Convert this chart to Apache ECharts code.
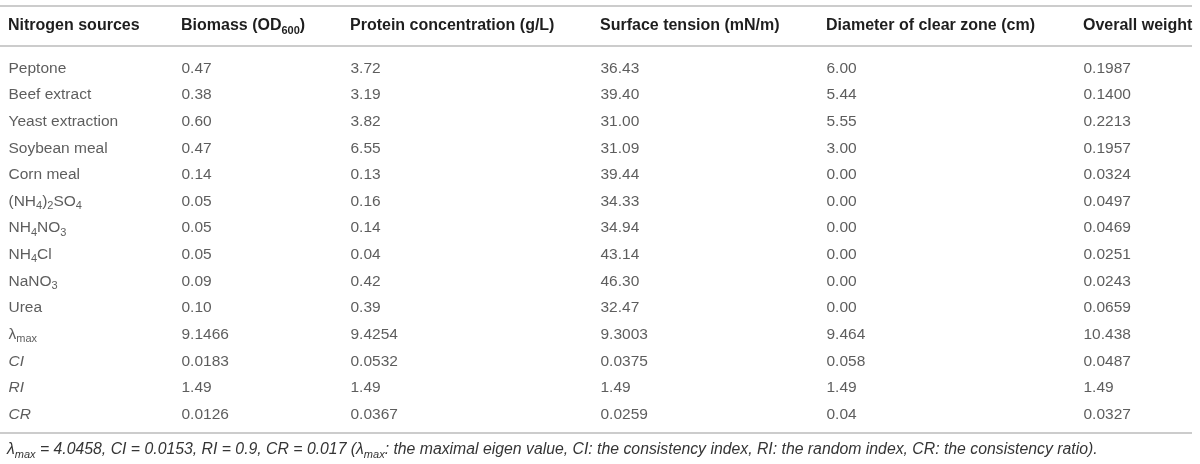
<!DOCTYPE html>
<html>
<head>
<meta charset="utf-8">
<script src="https://cdn.jsdelivr.net/npm/echarts@6/dist/echarts.min.js"></script>
<style>
html, body { margin: 0; padding: 0; background: #fff; }
#main { width: 1200px; height: 464px; }
</style>
</head>
<body>
<div id="main"></div>
<script>
// table content
var headers = ['Nitrogen sources', 'Biomass (OD{s|600})', 'Protein concentration (g/L)', 'Surface tension (mN/m)', 'Diameter of clear zone (cm)', 'Overall weight'];
var sources = ['Peptone', 'Beef extract', 'Yeast extraction', 'Soybean meal', 'Corn meal', '(NH{s|4}){s|2}SO{s|4}', 'NH{s|4}NO{s|3}', 'NH{s|4}Cl', 'NaNO{s|3}', 'Urea', 'λ{s|max}', '{i|CI}', '{i|RI}', '{i|CR}'];
var biomass = ['0.47', '0.38', '0.60', '0.47', '0.14', '0.05', '0.05', '0.05', '0.09', '0.10', '9.1466', '0.0183', '1.49', '0.0126'];
var protein = ['3.72', '3.19', '3.82', '6.55', '0.13', '0.16', '0.14', '0.04', '0.42', '0.39', '9.4254', '0.0532', '1.49', '0.0367'];
var surfaceTension = ['36.43', '39.40', '31.00', '31.09', '39.44', '34.33', '34.94', '43.14', '46.30', '32.47', '9.3003', '0.0375', '1.49', '0.0259'];
var clearZone = ['6.00', '5.44', '5.55', '3.00', '0.00', '0.00', '0.00', '0.00', '0.00', '0.00', '9.464', '0.058', '1.49', '0.04'];
var overallWeight = ['0.1987', '0.1400', '0.2213', '0.1957', '0.0324', '0.0497', '0.0469', '0.0251', '0.0243', '0.0659', '10.438', '0.0487', '1.49', '0.0327'];
var footnote = 'λ{s|max} = 4.0458, CI = 0.0153, RI = 0.9, CR = 0.017 (λ{s|max}: the maximal eigen value, CI: the consistency index, RI: the random index, CR: the consistency ratio).';

var columns = [sources, biomass, protein, surfaceTension, clearZone, overallWeight];

// layout
var colX = [8, 181, 350, 600, 826, 1083];
var font = 'Liberation Sans, Arial, Helvetica, sans-serif';
var bodyColor = '#353535';
var ruleColor = '#cccccc';

var subRich = {
    s: { fontSize: 11, lineHeight: 10, verticalAlign: 'bottom', fontFamily: font, color: bodyColor },
    i: { fontStyle: 'italic', fontSize: 15.5, lineHeight: 20, fontFamily: font, color: bodyColor }
};

var chart = echarts.init(document.getElementById('main'));

var series = columns.map(function (col, c) {
    return {
        type: 'scatter',
        symbolSize: 1,
        itemStyle: { color: 'rgba(0,0,0,0)' },
        silent: true,
        data: col.map(function (v, i) { return [colX[c], i, v]; }),
        label: {
            show: true,
            position: 'right',
            distance: 0,
            fontFamily: font,
            fontSize: 15.5,
            lineHeight: 20,
            color: bodyColor,
            formatter: function (p) { return p.value[2]; },
            rich: subRich
        }
    };
});

var graphics = [
    { type: 'line', shape: { x1: 0, y1: 6, x2: 1192, y2: 6 }, style: { stroke: ruleColor, lineWidth: 2 } },
    { type: 'line', shape: { x1: 0, y1: 46, x2: 1192, y2: 46 }, style: { stroke: ruleColor, lineWidth: 2 } },
    { type: 'line', shape: { x1: 0, y1: 433, x2: 1192, y2: 433 }, style: { stroke: ruleColor, lineWidth: 2 } },
    {
        type: 'text', x: 7, y: 450,
        style: {
            text: footnote,
            fontFamily: font, fontSize: 15.8, fontStyle: 'italic', lineHeight: 20,
            fill: bodyColor, verticalAlign: 'middle',
            rich: {
                s: { fontSize: 11, lineHeight: 10, verticalAlign: 'bottom', fontStyle: 'italic', fontFamily: font, color: bodyColor }
            }
        }
    }
];
headers.forEach(function (h, c) {
    graphics.push({
        type: 'text', x: colX[c], y: 26,
        style: {
            text: h,
            fontFamily: font, fontSize: 16, fontWeight: 'bold', lineHeight: 20,
            fill: '#1e1e1e', verticalAlign: 'middle',
            rich: {
                s: { fontSize: 11, lineHeight: 10, verticalAlign: 'bottom', fontWeight: 'bold', fontFamily: font, color: '#1e1e1e' }
            }
        }
    });
});

var option = {
    animation: false,
    grid: { left: 0, right: 0, top: 55, height: 373 },
    xAxis: { type: 'value', min: 0, max: 1200, show: false },
    yAxis: { type: 'category', inverse: true, show: false, data: sources },
    series: series,
    graphic: graphics
};
chart.setOption(option);
</script>
</body>
</html>
